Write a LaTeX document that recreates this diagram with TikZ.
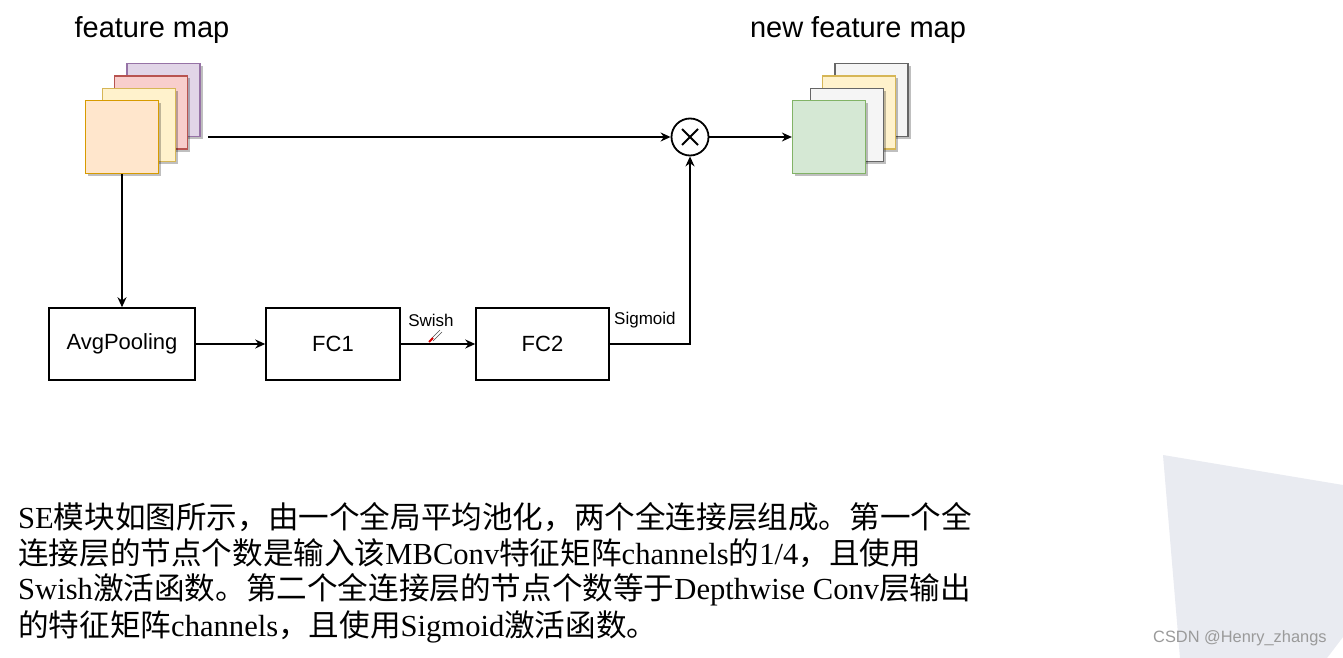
\documentclass[tikz,border=0pt]{standalone}
\usepackage{fontspec}
\setmainfont{Liberation Serif}
\newfontfamily\arial{Liberation Sans}
\newfontfamily\cjk{Noto Sans CJK SC}
\usetikzlibrary{arrows.meta,shadows,calc}
\definecolor{orangeF}{HTML}{FFE6CC}\definecolor{orangeD}{HTML}{D79B00}
\definecolor{yellowF}{HTML}{FFF2CC}\definecolor{yellowD}{HTML}{D6B656}
\definecolor{redF}{HTML}{F8CECC}\definecolor{redD}{HTML}{B85450}
\definecolor{purpleF}{HTML}{E1D5E7}\definecolor{purpleD}{HTML}{9673A6}
\definecolor{greenF}{HTML}{D5E8D4}\definecolor{greenD}{HTML}{82B366}
\definecolor{grayF}{HTML}{F5F5F5}\definecolor{grayD}{HTML}{666666}
\definecolor{polyF}{HTML}{E9EBF1}
\definecolor{wmark}{HTML}{9A9A9A}
\begin{document}
\begin{tikzpicture}[x=1pt,y=-1pt,
  sq/.style={rectangle, draw, line width=1.2pt, inner sep=0pt, minimum width=73pt, minimum height=73pt,
    drop shadow={shadow xshift=2.5pt, shadow yshift=-2.5pt, fill=black, opacity=0.25}},
  blk/.style={rectangle, draw, line width=1.5pt, inner sep=0pt, minimum height=72pt, font=\arial\fontsize{22}{26}\selectfont},
  arr/.style={line width=1.5pt, -{Stealth[length=10pt,width=9pt]}},
  lbl/.style={font=\arial\fontsize{17}{20}\selectfont, inner sep=0pt},
  ttl/.style={font=\arial\fontsize{29}{34}\selectfont, inner sep=0pt},
  txt/.style={anchor=west, inner sep=0pt, font=\fontsize{30.6}{36}\selectfont}]
\useasboundingbox (0,0) rectangle (1343,658);
\fill[white] (0,0) rectangle (1343,658);
% background polygon
\fill[polyF] (1163,455) -- (1343,485) -- (1343,637) -- (1327,658) -- (1180,658) -- cycle;
% titles
\node[ttl] (t1) at (152,30) {feature map};
\node[ttl] (t2) at (858,30) {new feature map};
% left stack
\node[sq, fill=purpleF, draw=purpleD] (fm4) at (163.5,100) {};
\node[sq, fill=redF, draw=redD] (fm3) at (151,112.5) {};
\node[sq, fill=yellowF, draw=yellowD] (fm2) at (139,125) {};
\node[sq, fill=orangeF, draw=orangeD] (fm1) at (122,137) {};
% right stack
\node[sq, fill=grayF, draw=grayD] (nm4) at (871.5,100) {};
\node[sq, fill=yellowF, draw=yellowD] (nm3) at (859,112.5) {};
\node[sq, fill=grayF, draw=grayD] (nm2) at (847,125) {};
\node[sq, fill=greenF, draw=greenD] (nm1) at (829,137) {};
% multiply
\node[circle, draw, line width=1.8pt, minimum size=37pt, inner sep=0pt, fill=white] (mul) at (690,137) {};
\draw[line width=1.8pt] ($(mul.center)+(-8,-8)$) -- ($(mul.center)+(8,8)$);
\draw[line width=1.8pt] ($(mul.center)+(-8,8)$) -- ($(mul.center)+(8,-8)$);
% blocks
\node[blk, minimum width=146pt] (avg) at (122,344) {AvgPooling};
\node[blk, minimum width=134pt] (fc1) at (333,344) {FC1};
\node[blk, minimum width=133pt] (fc2) at (542.5,344) {FC2};
% connectors
\coordinate (s) at (208,137);
\draw[arr] (s) -- (mul.west);
\draw[arr] (mul.east) -- (nm1.west);
\draw[arr] (fm1.south) -- (avg.north);
\draw[arr] (avg.east) -- (fc1.west);
\draw[arr] (fc1.east) -- (fc2.west);
\draw[arr] (fc2.east) -| (mul.south);
\node[lbl] (sw) at (431,320) {Swish};
\node[lbl, anchor=west] (sg) at (614,320) {Sigmoid};
% pencil mark
\draw[gray!60!black, line width=0.6pt] (431,339) -- (440,330) (433,341) -- (442,332);
\draw[red!85!black, line width=1.8pt] (429,342) -- (433,338);
% text
\node[txt] (l1) at (18,517) {SE{\cjk 模块如图所示，由一个全局平均池化，两个全连接层组成。第一个全}};
\node[txt] (l2) at (18,553) {{\cjk 连接层的节点个数是输入该}MBConv{\cjk 特征矩阵}channels{\cjk 的}1/4{\cjk ，且使用}};
\node[txt] (l3) at (18,590) {Swish{\cjk 激活函数。第二个全连接层的节点个数等于}Depthwise Conv{\cjk 层输出}};
\node[txt] (l4) at (18,627) {{\cjk 的特征矩阵}channels{\cjk ，且使用}Sigmoid{\cjk 激活函数。}};
\node[anchor=west, inner sep=0pt, text=wmark, font=\arial\fontsize{16.4}{19}\selectfont] (wm) at (1153,638) {CSDN @Henry\_zhangs};
\end{tikzpicture}
\end{document}
